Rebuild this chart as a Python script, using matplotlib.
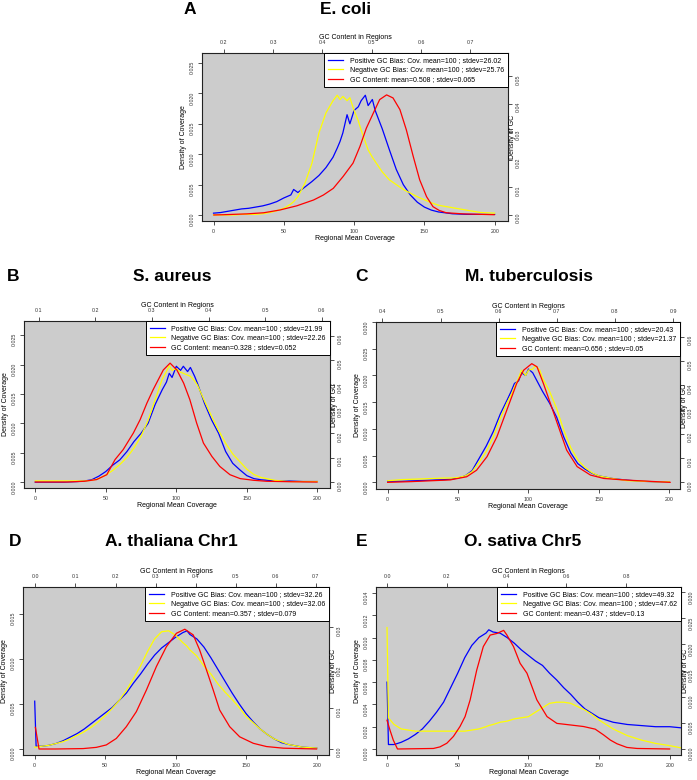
import numpy as np
import matplotlib.pyplot as plt
from matplotlib.ticker import FormatStrFormatter

plt.rcParams['font.family'] = ['Liberation Sans', 'DejaVu Sans']

# ---- A: E. coli ----
a_cov = [0, 5, 10, 15, 20, 25, 30, 35, 40, 45, 50, 55, 57, 60, 65, 70, 75, 80, 85, 88,
         90, 92, 95, 97, 100, 103, 105, 108, 110, 113, 115, 120, 125, 130, 135, 140, 145, 150, 155, 160,
         170, 180, 190, 200]
a_pos = [.0003, .0004, .0006, .0008, .0010, .0011, .0013, .0015, .0018, .0022,
         .0028, .0033, .0042, .0037, .0046, .0055, .0065, .0078, .0095, .0110,
         .0121, .0135, .0165, .0150, .0172, .0178, .0188, .0197, .0180, .0190,
         .0172, .0142, .0108, .0075, .0050, .0033, .0021, .0013, .0008, .0005,
         .0002, .0001, .0001, .0001]
a_neg = [0, 0, 0, 0, .0001, .0001, .0001, .0002, .0004, .0007,
         .0011, .0018, .0022, .0030, .0052, .0085, .0135, .0168, .0188, .0197,
         .0190, .0195, .0188, .0193, .0172, .0155, .0140, .0120, .0107, .0095,
         .0088, .0071, .0058, .0050, .0042, .0036, .0030, .0025, .0020, .0016,
         .0012, .0008, .0004, .0003]
a_gc = [0.18, 0.20, 0.247, 0.281, 0.314, 0.348, 0.382, 0.402, 0.422, 0.442, 0.462, 0.476, 0.489, 0.503,
        0.516, 0.530, 0.543, 0.557, 0.570, 0.584, 0.597, 0.611, 0.624, 0.637, 0.651, 0.685, 0.748]
a_gcd = [0, .0001, .0004, .0008, .0018, .0033, .0054, .0072, .0096, .0139, .0187, .0247, .0313, .0367,
         .0416, .0433, .0422, .0380, .0307, .0211, .0127, .0066, .0030, .0016, .0008, .0004, .0001]

# ---- B: S. aureus ----
b_cov = [0, 10, 20, 30, 35, 40, 45, 50, 55, 60, 65, 70, 75, 80, 85, 90, 93, 95, 97, 100,
         103, 105, 108, 110, 113, 115, 120, 125, 130, 135, 140, 145, 150, 155, 160, 170, 180, 190, 200]
b_pos = [0, 0, 0, .0001, .0002, .0004, .0010, .0018, .0029, .0038,
         .0052, .0069, .0083, .0100, .0132, .0157, .0170, .0185, .0178, .0197,
         .0190, .0197, .0188, .0195, .0180, .0168, .0134, .0106, .0083, .0052,
         .0032, .0021, .0011, .0006, .0004, .0002, .0002, .0001, .0001]
b_neg = [.0002, .0002, .0002, .0002, .0002, .0003, .0006, .0012, .0020, .0030,
         .0042, .0058, .0078, .0105, .0140, .0175, .0188, .0198, .0190, .0193,
         .0187, .0185, .0182, .0180, .0172, .0165, .0138, .0112, .0088, .0066,
         .0048, .0035, .0022, .0013, .0008, .0003, .0001, .0001, .0001]
b_gc = [0.0935, 0.15, 0.18, 0.202, 0.22, 0.2346, 0.249, 0.267, 0.279, 0.291, 0.302, 0.320, 0.332,
        0.344, 0.356, 0.367, 0.379, 0.391, 0.406, 0.42, 0.438, 0.456, 0.48, 0.503, 0.55, 0.592]
b_gcd = [0, 0, .0003, .0010, .0030, .0092, .0133, .0201, .0256, .0324, .0379, .0460, .0488,
         .0460, .0406, .0338, .0242, .0160, .0105, .0064, .0030, .0014, .0007, .0003, .0001, 0]

# ---- C: M. tuberculosis ----
c_cov = [0, 10, 20, 30, 40, 45, 50, 55, 60, 65, 70, 75, 80, 85, 88, 90, 93, 95, 98, 100,
         103, 105, 108, 110, 115, 120, 125, 130, 135, 140, 145, 150, 160, 170, 180, 190, 200]
c_pos = [.0002, .0002, .0003, .0004, .0005, .0006, .0008, .0012, .0022, .0045,
         .0068, .0095, .0128, .0155, .0172, .0185, .0190, .0205, .0200, .0212,
         .0205, .0195, .0180, .0170, .0148, .0122, .0085, .0055, .0035, .0025,
         .0017, .0012, .0007, .0004, .0002, .0001, .0001]
c_neg = [.0003, .0005, .0006, .0007, .0008, .0008, .0009, .0012, .0020, .0038,
         .0058, .0085, .0120, .0150, .0165, .0178, .0195, .0210, .0200, .0210,
         .0212, .0218, .0210, .0195, .0170, .0138, .0098, .0065, .0042, .0028,
         .0018, .0012, .0007, .0003, .0002, .0001, .0001]
c_gc = [0.409, 0.45, 0.5165, 0.545, 0.562, 0.580, 0.597, 0.614, 0.631, 0.643, 0.657, 0.666,
        0.677, 0.689, 0.703, 0.717, 0.735, 0.758, 0.781, 0.815, 0.861, 0.895]
c_gcd = [0, .0003, .0010, .0023, .0050, .0106, .0188, .0298, .0408, .0463, .0490, .0477,
         .0408, .0326, .0229, .0133, .0065, .0030, .0016, .0010, .0004, 0]

# ---- D: A. thaliana Chr1 ----
d_cov = [0, 1, 5, 10, 15, 20, 25, 30, 35, 40, 45, 50, 55, 60, 65, 70, 75, 80, 85, 90,
         95, 100, 105, 108, 110, 115, 120, 125, 130, 135, 140, 145, 150, 155, 160, 165, 170, 175, 180, 190,
         200]
d_pos = [.0053, .0003, .0003, .0004, .0006, .0009, .0013, .0017, .0022, .0028,
         .0034, .0040, .0046, .0054, .0062, .0073, .0083, .0094, .0104, .0112,
         .0118, .0124, .0129, .0131, .0127, .0122, .0113, .0101, .0088, .0075,
         .0062, .0050, .0039, .0030, .0022, .0016, .0011, .0007, .0005, .0002,
         .0001]
d_neg = [.0002, .0002, .0003, .0004, .0006, .0008, .0011, .0015, .0019, .0024,
         .0030, .0037, .0045, .0054, .0065, .0078, .0092, .0108, .0122, .0130,
         .0131, .0126, .0118, .0114, .0110, .0103, .0092, .0083, .0072, .0063,
         .0055, .0046, .0036, .0029, .0022, .0016, .0011, .0008, .0005, .0002,
         .0001]
d_gc = [0.0, 0.009, 0.05, 0.119, 0.152, 0.177, 0.202, 0.227, 0.252, 0.277, 0.302, 0.327, 0.352,
        0.373, 0.394, 0.41, 0.427, 0.444, 0.46, 0.485, 0.51, 0.544, 0.577, 0.619, 0.702]
d_gcd = [.0053, 0, 0, .0001, .0004, .0010, .0026, .0055, .0092, .0145, .0203, .0252, .0285,
         .0295, .0281, .0244, .0195, .0145, .0096, .0055, .0030, .0014, .0006, .0002, 0]

# ---- E: O. sativa Chr5 ----
e_cov = [0, 1, 5, 10, 15, 20, 25, 30, 35, 40, 45, 50, 55, 60, 65, 70, 72, 75, 80, 85,
         90, 95, 100, 105, 110, 115, 120, 125, 130, 135, 140, 145, 150, 155, 160, 170, 180, 190, 200, 208]
e_pos = [.0060, .0004, .0004, .0006, .0009, .0013, .0018, .0025, .0033, .0042,
         .0055, .0068, .0082, .0093, .0100, .0104, .0107, .0105, .0104, .0100,
         .0095, .0089, .0084, .0079, .0075, .0068, .0062, .0055, .0049, .0042,
         .0036, .0032, .0028, .0026, .0024, .0022, .0021, .0020, .0020, .0019]
e_neg = [.0109, .0028, .0022, .0018, .0017, .0016, .0016, .0016, .0016, .0016,
         .0016, .0016, .0016, .0017, .0018, .0020, .0021, .0022, .0024, .0025,
         .0027, .0028, .0029, .0033, .0037, .0041, .0042, .0042, .0041, .0038,
         .0035, .0031, .0026, .0022, .0018, .0012, .0008, .0005, .0003, .0001]
e_gc = [0.0, 0.010, 0.021, 0.035, 0.155, 0.177, 0.200, 0.222, 0.244, 0.261, 0.278, 0.300, 0.322,
        0.345, 0.367, 0.390, 0.401, 0.423, 0.445, 0.468, 0.501, 0.535, 0.568, 0.613, 0.657, 0.696,
        0.724, 0.747, 0.769, 0.802, 0.836, 0.945]
e_gcd = [.0055, .0036, .0017, 0, .0001, .0004, .0011, .0024, .0043, .0062, .0094, .0151, .0196,
         .0218, .0221, .0227, .0218, .0196, .0164, .0145, .0094, .0062, .0049, .0046, .0043, .0038,
         .0027, .0017, .0010, .0003, .0001, 0]

letters = ['A', 'B', 'C', 'D', 'E']
titles = ['E. coli', 'S. aureus', 'M. tuberculosis', 'A. thaliana Chr1', 'O. sativa Chr5']
pos_sd = ['26.02', '21.99', '20.43', '32.26', '49.32']
neg_sd = ['25.76', '22.26', '21.37', '32.06', '47.62']
gc_mean = ['0.508', '0.328', '0.656', '0.357', '0.437']
gc_sd = ['0.065', '0.052', '0.05', '0.079', '0.13']

cov_ticks = [0, 50, 100, 150, 200]
left_ticks = [np.arange(0, 0.0251, 0.005), np.arange(0, 0.0251, 0.005), np.arange(0, 0.0301, 0.005),
              np.arange(0, 0.0151, 0.005), np.arange(0, 0.0141, 0.002)]
top_ticks = [np.arange(0.2, 0.71, 0.1), np.arange(0.1, 0.61, 0.1), np.arange(0.4, 0.91, 0.1),
             np.arange(0.0, 0.71, 0.1), np.arange(0.0, 0.81, 0.2)]
right_ticks = [np.arange(0, 0.051, 0.01), np.arange(0, 0.061, 0.01), np.arange(0, 0.061, 0.01),
               np.arange(0, 0.031, 0.01), np.arange(0, 0.0301, 0.005)]
right_fmt = ['%.2f', '%.2f', '%.2f', '%.2f', '%.3f']

covs = [a_cov, b_cov, c_cov, d_cov, e_cov]
poss = [a_pos, b_pos, c_pos, d_pos, e_pos]
negs = [a_neg, b_neg, c_neg, d_neg, e_neg]
gcs = [a_gc, b_gc, c_gc, d_gc, e_gc]
gcds = [a_gcd, b_gcd, c_gcd, d_gcd, e_gcd]

# layout in pixels (left, top, right, bottom) of each plot box
W, H = 697, 780
boxes = [(202, 53, 508, 221), (24, 321, 330, 488), (376, 322, 680, 489),
         (23, 587, 329, 755), (376, 587, 681, 755)]
xlims = [(-8.2, 209.5), (-8, 209), (-8.3, 207.6), (-8.3, 208.7), (-7.8, 208)]
ylims = [(-0.00099, 0.02665), (-0.001, 0.0274), (-0.00125, 0.0300), (-0.00067, 0.01796), (-0.00054, 0.01454)]
gxlims = [(0.156, 0.776), (0.0735, 0.615), (0.389, 0.912), (-0.031, 0.733), (-0.0368, 0.983)]
gylims = [(-0.00217, 0.0584), (-0.00246, 0.0661), (-0.00275, 0.0662), (-0.00148, 0.0399), (-0.00115, 0.031)]
letter_xy = [(190, 10), (13, 276), (362, 276), (15, 541), (362, 542)]
title_xy = [(346, 10), (172, 276), (529, 276), (171, 541), (523, 542)]

fig = plt.figure(figsize=(W / 100, H / 100), dpi=100)

tick_kw = dict(direction='out', length=3, width=0.6, labelsize=3.8, pad=2.5, colors='#333333')

for i in range(5):
    l, t, r, b = boxes[i]
    rect = [l / W, 1 - b / H, (r - l) / W, (b - t) / H]
    ax = fig.add_axes(rect)
    ax.set_facecolor('#cccccc')
    ax.plot(covs[i], poss[i], color='#0000ff', lw=0.9)
    ax.plot(covs[i], negs[i], color='#ffff00', lw=0.9)
    ax.set_xlim(xlims[i])
    ax.set_ylim(ylims[i])
    ax.set_xticks(cov_ticks)
    ax.set_yticks(left_ticks[i])
    ax.yaxis.set_major_formatter(FormatStrFormatter('%.3f'))
    ax.tick_params(**tick_kw)
    ax.tick_params(axis='y', labelrotation=90)
    for s in ax.spines.values():
        s.set_linewidth(0.8)
        s.set_color('#222222')
    ax.set_xlabel('Regional Mean Coverage', fontsize=5, labelpad=1)
    ax.set_ylabel('Density of Coverage', fontsize=5, labelpad=1.5)

    axg = fig.add_axes(rect, frameon=False)
    axg.patch.set_alpha(0)
    axg.plot(gcs[i], gcds[i], color='#ff0000', lw=0.9)
    axg.set_xlim(gxlims[i])
    axg.set_ylim(gylims[i])
    axg.xaxis.tick_top()
    axg.yaxis.tick_right()
    axg.set_xticks(top_ticks[i])
    axg.set_yticks(right_ticks[i])
    axg.xaxis.set_major_formatter(FormatStrFormatter('%.1f'))
    axg.yaxis.set_major_formatter(FormatStrFormatter(right_fmt[i]))
    axg.tick_params(**tick_kw)
    axg.tick_params(axis='y', labelrotation=90)
    axg.xaxis.set_label_position('top')
    axg.set_xlabel('GC Content in Regions', fontsize=5, labelpad=1)
    axg.text(1.004, 0.5, 'Density of GC', rotation=90, fontsize=5, ha='left', va='center',
             transform=axg.transAxes)

    h1, = axg.plot([], [], color='#0000ff', lw=0.9)
    h2, = axg.plot([], [], color='#ffff00', lw=0.9)
    h3, = axg.plot([], [], color='#ff0000', lw=0.9)
    leg = axg.legend([h1, h2, h3],
                     ['Positive GC Bias: Cov. mean=100 ; stdev=' + pos_sd[i],
                      'Negative GC Bias: Cov. mean=100 ; stdev=' + neg_sd[i],
                      'GC Content: mean=' + gc_mean[i] + ' ; stdev=' + gc_sd[i]],
                     loc='upper right', borderaxespad=0, fontsize=5, fancybox=False,
                     framealpha=1, edgecolor='black', handlelength=2.2, handletextpad=0.9,
                     labelspacing=0.35, borderpad=0.6)
    leg.get_frame().set_linewidth(0.7)

    fig.text(letter_xy[i][0] / W, 1 - letter_xy[i][1] / H, letters[i], fontsize=12.5,
             fontweight='bold', ha='center', va='center')
    fig.text(title_xy[i][0] / W, 1 - title_xy[i][1] / H, titles[i], fontsize=12.5,
             fontweight='bold', ha='center', va='center')

fig.savefig('out.png', dpi=100)
